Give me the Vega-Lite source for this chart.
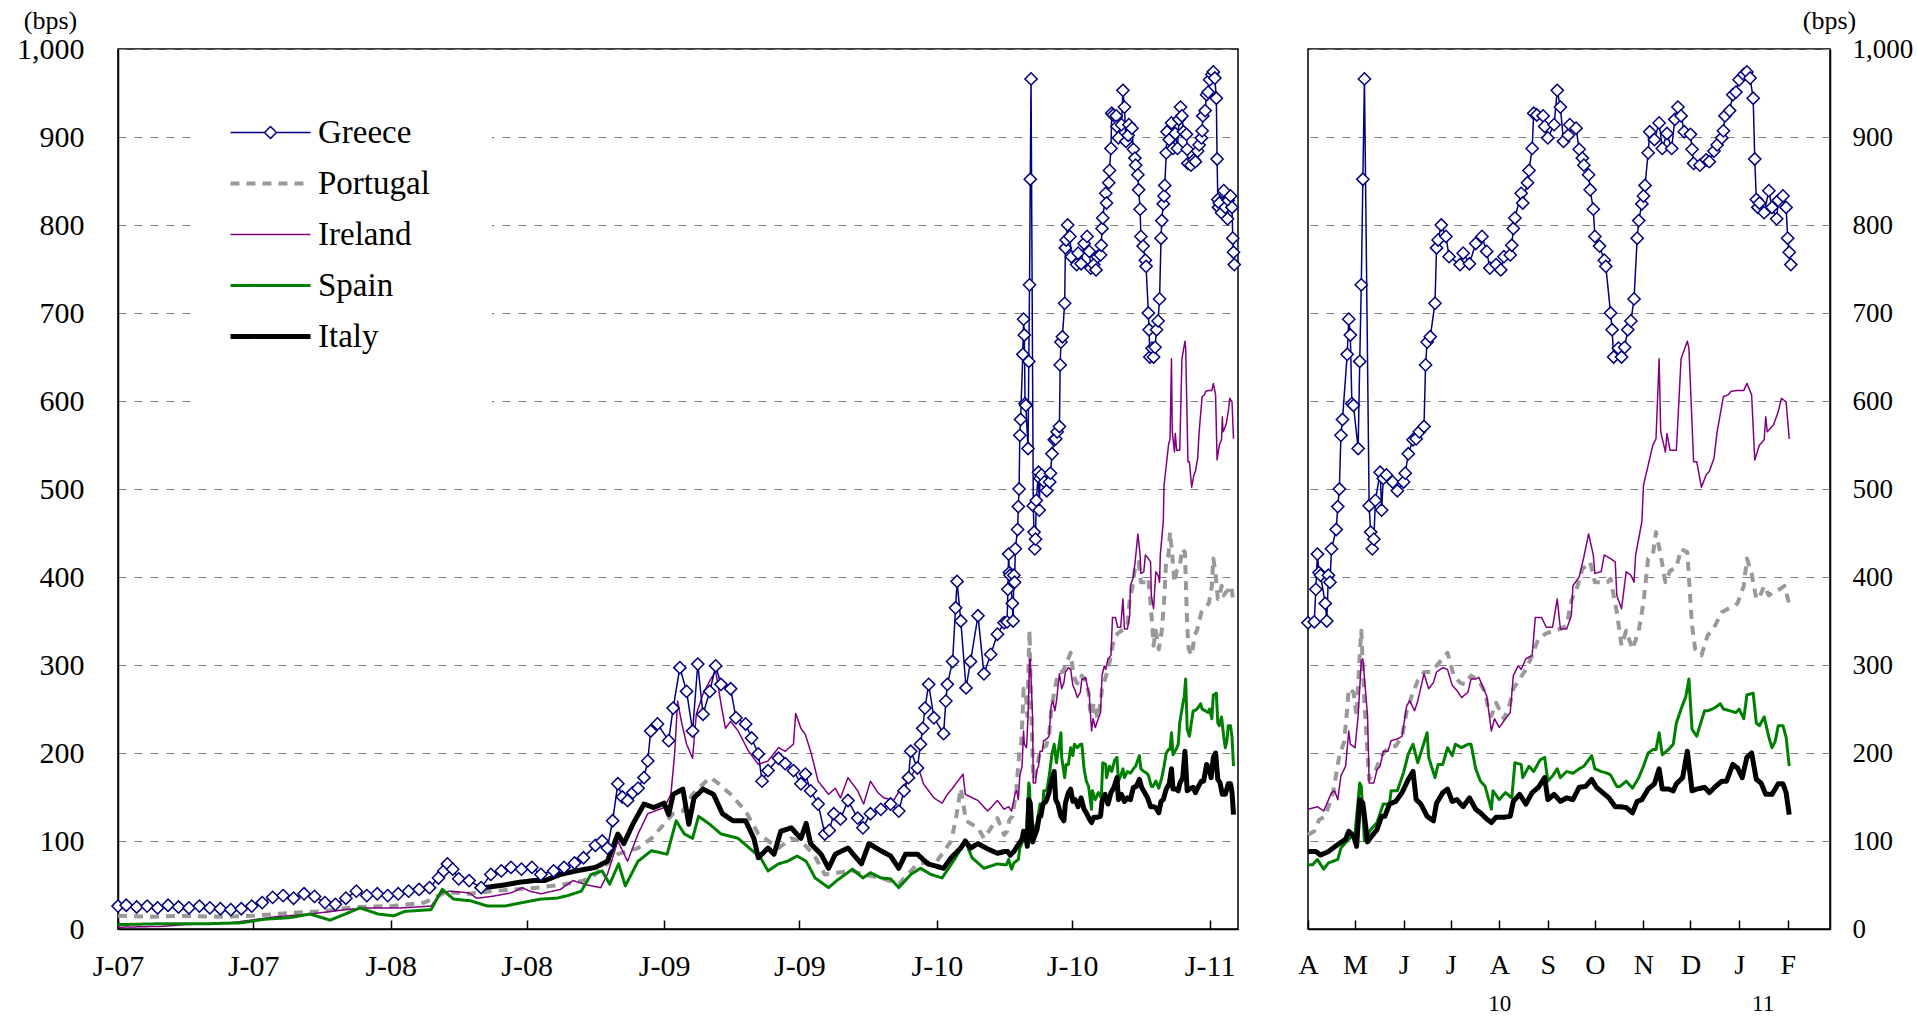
{
"$schema": "https://vega.github.io/schema/vega-lite/v6.json",
"padding": {"left": 15, "top": 6, "right": 5, "bottom": 0},
"bounds": "flush",
"spacing": 70,
"config": {
  "font": "Liberation Serif",
  "view": {"stroke": "#000", "strokeWidth": 1.5},
  "axis": {"domainColor": "#000", "domainWidth": 1.5, "labelColor": "#000", "labelFont": "Liberation Serif", "titleFont": "Liberation Serif", "titleFontWeight": "normal", "titleColor": "#000", "gridColor": "#808080", "gridDash": [8, 8], "gridWidth": 1, "tickColor": "#000", "tickWidth": 1.5}
},
"data": {"format": {"parse": {"d": "date"}}, "values": [
{"c":"Portugal","d":"2007-01-01","v":15},{"c":"Portugal","d":"2007-02-15","v":14},{"c":"Portugal","d":"2007-04-01","v":15},{"c":"Portugal","d":"2007-05-15","v":14},{"c":"Portugal","d":"2007-07-01","v":15},{"c":"Portugal","d":"2007-08-15","v":18},{"c":"Portugal","d":"2007-10-01","v":20},{"c":"Portugal","d":"2007-11-15","v":25},{"c":"Portugal","d":"2008-01-01","v":26},{"c":"Portugal","d":"2008-02-15","v":30},{"c":"Portugal","d":"2008-03-15","v":42},{"c":"Portugal","d":"2008-04-15","v":40},{"c":"Portugal","d":"2008-05-15","v":43},{"c":"Portugal","d":"2008-06-15","v":45},{"c":"Portugal","d":"2008-07-15","v":47},{"c":"Portugal","d":"2008-08-15","v":50},{"c":"Portugal","d":"2008-09-15","v":55},{"c":"Portugal","d":"2008-10-01","v":62},{"c":"Portugal","d":"2008-10-31","v":85},{"c":"Portugal","d":"2008-11-27","v":92},{"c":"Portugal","d":"2008-12-15","v":103},{"c":"Portugal","d":"2009-01-13","v":131},{"c":"Portugal","d":"2009-01-26","v":134},{"c":"Portugal","d":"2009-02-08","v":153},{"c":"Portugal","d":"2009-03-03","v":172},{"c":"Portugal","d":"2009-03-11","v":168},{"c":"Portugal","d":"2009-03-31","v":153},{"c":"Portugal","d":"2009-04-20","v":134},{"c":"Portugal","d":"2009-05-07","v":108},{"c":"Portugal","d":"2009-06-03","v":92},{"c":"Portugal","d":"2009-06-20","v":103},{"c":"Portugal","d":"2009-07-03","v":100},{"c":"Portugal","d":"2009-07-20","v":85},{"c":"Portugal","d":"2009-08-04","v":62},{"c":"Portugal","d":"2009-08-20","v":64},{"c":"Portugal","d":"2009-09-10","v":66},{"c":"Portugal","d":"2009-09-24","v":62},{"c":"Portugal","d":"2009-10-18","v":58},{"c":"Portugal","d":"2009-11-11","v":51},{"c":"Portugal","d":"2009-12-06","v":74},{"c":"Portugal","d":"2010-01-01","v":77},{"c":"Portugal","d":"2010-01-20","v":100},{"c":"Portugal","d":"2010-01-26","v":123},{"c":"Portugal","d":"2010-02-02","v":160},{"c":"Portugal","d":"2010-02-09","v":123},{"c":"Portugal","d":"2010-02-25","v":115},{"c":"Portugal","d":"2010-03-05","v":103},{"c":"Portugal","d":"2010-03-23","v":126},
{"c":"Portugal","d":"2010-04-01","v":107},{"c":"Portugal","d":"2010-04-05","v":111},{"c":"Portugal","d":"2010-04-08","v":124},{"c":"Portugal","d":"2010-04-12","v":128},{"c":"Portugal","d":"2010-04-17","v":155},{"c":"Portugal","d":"2010-04-21","v":197},{"c":"Portugal","d":"2010-04-24","v":212},{"c":"Portugal","d":"2010-04-26","v":250},{"c":"Portugal","d":"2010-04-27","v":273},{"c":"Portugal","d":"2010-04-30","v":269},{"c":"Portugal","d":"2010-05-02","v":242},{"c":"Portugal","d":"2010-05-04","v":311},{"c":"Portugal","d":"2010-05-05","v":339},{"c":"Portugal","d":"2010-05-07","v":257},{"c":"Portugal","d":"2010-05-10","v":170},{"c":"Portugal","d":"2010-05-14","v":180},{"c":"Portugal","d":"2010-05-18","v":197},{"c":"Portugal","d":"2010-05-22","v":206},{"c":"Portugal","d":"2010-05-27","v":208},{"c":"Portugal","d":"2010-05-31","v":219},{"c":"Portugal","d":"2010-06-03","v":248},{"c":"Portugal","d":"2010-06-07","v":269},{"c":"Portugal","d":"2010-06-10","v":282},{"c":"Portugal","d":"2010-06-14","v":292},{"c":"Portugal","d":"2010-06-18","v":292},{"c":"Portugal","d":"2010-06-22","v":299},{"c":"Portugal","d":"2010-06-29","v":314},{"c":"Portugal","d":"2010-07-03","v":288},{"c":"Portugal","d":"2010-07-07","v":280},{"c":"Portugal","d":"2010-07-10","v":278},{"c":"Portugal","d":"2010-07-14","v":288},{"c":"Portugal","d":"2010-07-19","v":282},{"c":"Portugal","d":"2010-07-23","v":269},{"c":"Portugal","d":"2010-07-25","v":250},{"c":"Portugal","d":"2010-07-27","v":242},{"c":"Portugal","d":"2010-07-30","v":257},{"c":"Portugal","d":"2010-08-04","v":239},{"c":"Portugal","d":"2010-08-08","v":257},{"c":"Portugal","d":"2010-08-10","v":273},{"c":"Portugal","d":"2010-08-14","v":284},{"c":"Portugal","d":"2010-08-18","v":295},{"c":"Portugal","d":"2010-08-22","v":311},{"c":"Portugal","d":"2010-08-26","v":330},{"c":"Portugal","d":"2010-08-31","v":336},{"c":"Portugal","d":"2010-09-05","v":339},{"c":"Portugal","d":"2010-09-09","v":341},{"c":"Portugal","d":"2010-09-13","v":345},{"c":"Portugal","d":"2010-09-16","v":373},{"c":"Portugal","d":"2010-09-20","v":390},{"c":"Portugal","d":"2010-09-23","v":409},{"c":"Portugal","d":"2010-09-28","v":417},{"c":"Portugal","d":"2010-10-01","v":394},{"c":"Portugal","d":"2010-10-05","v":394},{"c":"Portugal","d":"2010-10-09","v":394},{"c":"Portugal","d":"2010-10-11","v":398},{"c":"Portugal","d":"2010-10-15","v":360},{"c":"Portugal","d":"2010-10-18","v":322},{"c":"Portugal","d":"2010-10-21","v":339},{"c":"Portugal","d":"2010-10-25","v":318},{"c":"Portugal","d":"2010-10-29","v":339},{"c":"Portugal","d":"2010-11-01","v":371},{"c":"Portugal","d":"2010-11-04","v":421},{"c":"Portugal","d":"2010-11-07","v":425},{"c":"Portugal","d":"2010-11-09","v":451},{"c":"Portugal","d":"2010-11-12","v":425},{"c":"Portugal","d":"2010-11-15","v":394},{"c":"Portugal","d":"2010-11-18","v":407},{"c":"Portugal","d":"2010-11-22","v":411},{"c":"Portugal","d":"2010-11-25","v":432},{"c":"Portugal","d":"2010-11-29","v":428},{"c":"Portugal","d":"2010-11-30","v":400},{"c":"Portugal","d":"2010-12-01","v":371},{"c":"Portugal","d":"2010-12-02","v":345},{"c":"Portugal","d":"2010-12-04","v":318},{"c":"Portugal","d":"2010-12-08","v":311},{"c":"Portugal","d":"2010-12-12","v":334},{"c":"Portugal","d":"2010-12-15","v":339},{"c":"Portugal","d":"2010-12-21","v":360},{"c":"Portugal","d":"2010-12-25","v":364},{"c":"Portugal","d":"2010-12-31","v":370},{"c":"Portugal","d":"2011-01-04","v":390},{"c":"Portugal","d":"2011-01-06","v":421},{"c":"Portugal","d":"2011-01-09","v":404},{"c":"Portugal","d":"2011-01-12","v":375},{"c":"Portugal","d":"2011-01-14","v":377},{"c":"Portugal","d":"2011-01-17","v":390},{"c":"Portugal","d":"2011-01-20","v":379},{"c":"Portugal","d":"2011-01-23","v":383},{"c":"Portugal","d":"2011-01-26","v":385},{"c":"Portugal","d":"2011-01-30","v":390},{"c":"Portugal","d":"2011-02-02","v":369},
{"c":"Ireland","d":"2007-01-01","v":2},{"c":"Ireland","d":"2007-03-01","v":3},{"c":"Ireland","d":"2007-04-01","v":5},{"c":"Ireland","d":"2007-06-01","v":7},{"c":"Ireland","d":"2007-08-01","v":14},{"c":"Ireland","d":"2007-09-15","v":17},{"c":"Ireland","d":"2007-11-01","v":22},{"c":"Ireland","d":"2007-12-01","v":24},{"c":"Ireland","d":"2008-01-15","v":24},{"c":"Ireland","d":"2008-02-24","v":26},{"c":"Ireland","d":"2008-03-08","v":41},{"c":"Ireland","d":"2008-03-20","v":43},{"c":"Ireland","d":"2008-04-15","v":41},{"c":"Ireland","d":"2008-04-25","v":35},{"c":"Ireland","d":"2008-05-15","v":37},{"c":"Ireland","d":"2008-06-10","v":41},{"c":"Ireland","d":"2008-06-25","v":47},{"c":"Ireland","d":"2008-07-05","v":43},{"c":"Ireland","d":"2008-07-20","v":40},{"c":"Ireland","d":"2008-08-15","v":45},{"c":"Ireland","d":"2008-09-01","v":55},{"c":"Ireland","d":"2008-09-20","v":50},{"c":"Ireland","d":"2008-10-08","v":47},{"c":"Ireland","d":"2008-10-17","v":62},{"c":"Ireland","d":"2008-10-31","v":100},{"c":"Ireland","d":"2008-11-13","v":77},{"c":"Ireland","d":"2008-11-27","v":108},{"c":"Ireland","d":"2008-12-10","v":131},{"c":"Ireland","d":"2009-01-01","v":138},{"c":"Ireland","d":"2009-01-10","v":153},{"c":"Ireland","d":"2009-01-15","v":199},{"c":"Ireland","d":"2009-01-19","v":259},{"c":"Ireland","d":"2009-01-24","v":236},{"c":"Ireland","d":"2009-01-31","v":210},{"c":"Ireland","d":"2009-02-08","v":194},{"c":"Ireland","d":"2009-02-13","v":244},{"c":"Ireland","d":"2009-02-22","v":267},{"c":"Ireland","d":"2009-03-03","v":282},{"c":"Ireland","d":"2009-03-11","v":293},{"c":"Ireland","d":"2009-03-18","v":256},{"c":"Ireland","d":"2009-03-24","v":228},{"c":"Ireland","d":"2009-03-31","v":236},{"c":"Ireland","d":"2009-04-10","v":225},{"c":"Ireland","d":"2009-04-24","v":202},{"c":"Ireland","d":"2009-05-07","v":187},{"c":"Ireland","d":"2009-05-20","v":191},{"c":"Ireland","d":"2009-06-03","v":206},{"c":"Ireland","d":"2009-06-12","v":202},{"c":"Ireland","d":"2009-06-23","v":210},{"c":"Ireland","d":"2009-06-26","v":245},{"c":"Ireland","d":"2009-07-03","v":228},{"c":"Ireland","d":"2009-07-09","v":221},{"c":"Ireland","d":"2009-07-17","v":199},{"c":"Ireland","d":"2009-07-26","v":168},{"c":"Ireland","d":"2009-08-09","v":153},{"c":"Ireland","d":"2009-08-18","v":160},{"c":"Ireland","d":"2009-08-25","v":149},{"c":"Ireland","d":"2009-09-04","v":172},{"c":"Ireland","d":"2009-09-17","v":157},{"c":"Ireland","d":"2009-09-25","v":142},{"c":"Ireland","d":"2009-10-04","v":168},{"c":"Ireland","d":"2009-10-14","v":155},{"c":"Ireland","d":"2009-10-22","v":149},{"c":"Ireland","d":"2009-11-04","v":146},{"c":"Ireland","d":"2009-11-14","v":160},{"c":"Ireland","d":"2009-11-27","v":172},{"c":"Ireland","d":"2009-12-06","v":187},{"c":"Ireland","d":"2009-12-14","v":165},{"c":"Ireland","d":"2009-12-28","v":149},{"c":"Ireland","d":"2010-01-08","v":143},{"c":"Ireland","d":"2010-01-15","v":153},{"c":"Ireland","d":"2010-01-22","v":160},{"c":"Ireland","d":"2010-02-05","v":176},{"c":"Ireland","d":"2010-02-08","v":153},{"c":"Ireland","d":"2010-02-25","v":146},{"c":"Ireland","d":"2010-03-10","v":134},{"c":"Ireland","d":"2010-03-23","v":146},
{"c":"Ireland","d":"2010-04-01","v":136},{"c":"Ireland","d":"2010-04-07","v":139},{"c":"Ireland","d":"2010-04-11","v":134},{"c":"Ireland","d":"2010-04-16","v":155},{"c":"Ireland","d":"2010-04-18","v":157},{"c":"Ireland","d":"2010-04-20","v":147},{"c":"Ireland","d":"2010-04-22","v":174},{"c":"Ireland","d":"2010-04-25","v":185},{"c":"Ireland","d":"2010-04-27","v":225},{"c":"Ireland","d":"2010-04-28","v":210},{"c":"Ireland","d":"2010-05-01","v":206},{"c":"Ireland","d":"2010-05-03","v":242},{"c":"Ireland","d":"2010-05-05","v":305},{"c":"Ireland","d":"2010-05-06","v":307},{"c":"Ireland","d":"2010-05-09","v":242},{"c":"Ireland","d":"2010-05-10","v":166},{"c":"Ireland","d":"2010-05-13","v":166},{"c":"Ireland","d":"2010-05-15","v":181},{"c":"Ireland","d":"2010-05-17","v":185},{"c":"Ireland","d":"2010-05-19","v":202},{"c":"Ireland","d":"2010-05-22","v":202},{"c":"Ireland","d":"2010-05-24","v":214},{"c":"Ireland","d":"2010-05-28","v":216},{"c":"Ireland","d":"2010-05-31","v":219},{"c":"Ireland","d":"2010-06-03","v":254},{"c":"Ireland","d":"2010-06-05","v":259},{"c":"Ireland","d":"2010-06-08","v":248},{"c":"Ireland","d":"2010-06-10","v":259},{"c":"Ireland","d":"2010-06-14","v":290},{"c":"Ireland","d":"2010-06-17","v":273},{"c":"Ireland","d":"2010-06-20","v":280},{"c":"Ireland","d":"2010-06-22","v":292},{"c":"Ireland","d":"2010-06-26","v":297},{"c":"Ireland","d":"2010-06-29","v":295},{"c":"Ireland","d":"2010-07-02","v":277},{"c":"Ireland","d":"2010-07-05","v":271},{"c":"Ireland","d":"2010-07-08","v":263},{"c":"Ireland","d":"2010-07-12","v":269},{"c":"Ireland","d":"2010-07-14","v":284},{"c":"Ireland","d":"2010-07-17","v":284},{"c":"Ireland","d":"2010-07-19","v":286},{"c":"Ireland","d":"2010-07-22","v":273},{"c":"Ireland","d":"2010-07-24","v":265},{"c":"Ireland","d":"2010-07-27","v":225},{"c":"Ireland","d":"2010-07-29","v":239},{"c":"Ireland","d":"2010-08-01","v":229},{"c":"Ireland","d":"2010-08-05","v":239},{"c":"Ireland","d":"2010-08-08","v":246},{"c":"Ireland","d":"2010-08-10","v":288},{"c":"Ireland","d":"2010-08-13","v":299},{"c":"Ireland","d":"2010-08-15","v":295},{"c":"Ireland","d":"2010-08-18","v":307},{"c":"Ireland","d":"2010-08-22","v":311},{"c":"Ireland","d":"2010-08-24","v":354},{"c":"Ireland","d":"2010-08-28","v":354},{"c":"Ireland","d":"2010-08-31","v":343},{"c":"Ireland","d":"2010-09-04","v":343},{"c":"Ireland","d":"2010-09-07","v":375},{"c":"Ireland","d":"2010-09-09","v":341},{"c":"Ireland","d":"2010-09-13","v":341},{"c":"Ireland","d":"2010-09-16","v":356},{"c":"Ireland","d":"2010-09-17","v":390},{"c":"Ireland","d":"2010-09-21","v":400},{"c":"Ireland","d":"2010-09-24","v":423},{"c":"Ireland","d":"2010-09-27","v":449},{"c":"Ireland","d":"2010-09-30","v":425},{"c":"Ireland","d":"2010-10-01","v":404},{"c":"Ireland","d":"2010-10-05","v":406},{"c":"Ireland","d":"2010-10-07","v":425},{"c":"Ireland","d":"2010-10-11","v":421},{"c":"Ireland","d":"2010-10-14","v":417},{"c":"Ireland","d":"2010-10-15","v":379},{"c":"Ireland","d":"2010-10-18","v":364},{"c":"Ireland","d":"2010-10-21","v":406},{"c":"Ireland","d":"2010-10-24","v":402},{"c":"Ireland","d":"2010-10-26","v":394},{"c":"Ireland","d":"2010-10-27","v":425},{"c":"Ireland","d":"2010-10-29","v":444},{"c":"Ireland","d":"2010-10-31","v":463},{"c":"Ireland","d":"2010-11-01","v":504},{"c":"Ireland","d":"2010-11-04","v":527},{"c":"Ireland","d":"2010-11-07","v":550},{"c":"Ireland","d":"2010-11-09","v":557},{"c":"Ireland","d":"2010-11-11","v":648},{"c":"Ireland","d":"2010-11-12","v":565},{"c":"Ireland","d":"2010-11-15","v":542},{"c":"Ireland","d":"2010-11-16","v":563},{"c":"Ireland","d":"2010-11-18","v":544},{"c":"Ireland","d":"2010-11-22","v":544},{"c":"Ireland","d":"2010-11-25","v":648},{"c":"Ireland","d":"2010-11-29","v":668},{"c":"Ireland","d":"2010-11-30","v":660},{"c":"Ireland","d":"2010-12-03","v":531},{"c":"Ireland","d":"2010-12-05","v":531},{"c":"Ireland","d":"2010-12-08","v":502},{"c":"Ireland","d":"2010-12-11","v":516},{"c":"Ireland","d":"2010-12-13","v":520},{"c":"Ireland","d":"2010-12-16","v":535},{"c":"Ireland","d":"2010-12-18","v":565},{"c":"Ireland","d":"2010-12-22","v":605},{"c":"Ireland","d":"2010-12-25","v":607},{"c":"Ireland","d":"2010-12-27","v":611},{"c":"Ireland","d":"2010-12-31","v":612},{"c":"Ireland","d":"2011-01-04","v":612},{"c":"Ireland","d":"2011-01-06","v":620},{"c":"Ireland","d":"2011-01-09","v":607},{"c":"Ireland","d":"2011-01-11","v":533},{"c":"Ireland","d":"2011-01-14","v":550},{"c":"Ireland","d":"2011-01-17","v":556},{"c":"Ireland","d":"2011-01-18","v":582},{"c":"Ireland","d":"2011-01-19","v":565},{"c":"Ireland","d":"2011-01-23","v":573},{"c":"Ireland","d":"2011-01-26","v":588},{"c":"Ireland","d":"2011-01-28","v":603},{"c":"Ireland","d":"2011-01-31","v":599},{"c":"Ireland","d":"2011-02-02","v":557},
{"c":"Spain","d":"2007-01-01","v":5},{"c":"Spain","d":"2007-03-01","v":6},{"c":"Spain","d":"2007-05-01","v":6},{"c":"Spain","d":"2007-06-15","v":7},{"c":"Spain","d":"2007-07-15","v":11},{"c":"Spain","d":"2007-08-20","v":13},{"c":"Spain","d":"2007-09-15","v":17},{"c":"Spain","d":"2007-10-12","v":10},{"c":"Spain","d":"2007-11-01","v":17},{"c":"Spain","d":"2007-11-21","v":24},{"c":"Spain","d":"2007-12-15","v":17},{"c":"Spain","d":"2008-01-05","v":15},{"c":"Spain","d":"2008-01-20","v":20},{"c":"Spain","d":"2008-02-24","v":22},{"c":"Spain","d":"2008-03-10","v":45},{"c":"Spain","d":"2008-03-25","v":34},{"c":"Spain","d":"2008-04-17","v":32},{"c":"Spain","d":"2008-05-10","v":26},{"c":"Spain","d":"2008-06-01","v":26},{"c":"Spain","d":"2008-06-25","v":30},{"c":"Spain","d":"2008-07-20","v":34},{"c":"Spain","d":"2008-08-10","v":35},{"c":"Spain","d":"2008-08-25","v":38},{"c":"Spain","d":"2008-09-12","v":43},{"c":"Spain","d":"2008-09-25","v":62},{"c":"Spain","d":"2008-10-10","v":66},{"c":"Spain","d":"2008-10-20","v":51},{"c":"Spain","d":"2008-11-01","v":74},{"c":"Spain","d":"2008-11-10","v":49},{"c":"Spain","d":"2008-11-27","v":77},{"c":"Spain","d":"2008-12-15","v":89},{"c":"Spain","d":"2009-01-05","v":85},{"c":"Spain","d":"2009-01-17","v":123},{"c":"Spain","d":"2009-01-28","v":108},{"c":"Spain","d":"2009-02-08","v":103},{"c":"Spain","d":"2009-02-16","v":128},{"c":"Spain","d":"2009-03-03","v":119},{"c":"Spain","d":"2009-03-18","v":108},{"c":"Spain","d":"2009-04-10","v":103},{"c":"Spain","d":"2009-04-25","v":92},{"c":"Spain","d":"2009-05-10","v":81},{"c":"Spain","d":"2009-05-20","v":66},{"c":"Spain","d":"2009-06-03","v":74},{"c":"Spain","d":"2009-06-15","v":77},{"c":"Spain","d":"2009-06-28","v":83},{"c":"Spain","d":"2009-07-10","v":77},{"c":"Spain","d":"2009-07-22","v":58},{"c":"Spain","d":"2009-08-09","v":47},{"c":"Spain","d":"2009-08-20","v":55},{"c":"Spain","d":"2009-09-10","v":68},{"c":"Spain","d":"2009-09-24","v":58},{"c":"Spain","d":"2009-10-04","v":64},{"c":"Spain","d":"2009-10-18","v":58},{"c":"Spain","d":"2009-10-31","v":57},{"c":"Spain","d":"2009-11-11","v":47},{"c":"Spain","d":"2009-11-27","v":62},{"c":"Spain","d":"2009-12-10","v":69},{"c":"Spain","d":"2009-12-24","v":62},{"c":"Spain","d":"2010-01-08","v":58},{"c":"Spain","d":"2010-01-26","v":81},{"c":"Spain","d":"2010-02-08","v":100},{"c":"Spain","d":"2010-02-17","v":81},{"c":"Spain","d":"2010-03-05","v":69},{"c":"Spain","d":"2010-03-23","v":74},
{"c":"Spain","d":"2010-04-01","v":73},{"c":"Spain","d":"2010-04-04","v":73},{"c":"Spain","d":"2010-04-07","v":79},{"c":"Spain","d":"2010-04-11","v":68},{"c":"Spain","d":"2010-04-14","v":75},{"c":"Spain","d":"2010-04-20","v":79},{"c":"Spain","d":"2010-04-22","v":92},{"c":"Spain","d":"2010-04-27","v":102},{"c":"Spain","d":"2010-05-01","v":109},{"c":"Spain","d":"2010-05-04","v":166},{"c":"Spain","d":"2010-05-05","v":162},{"c":"Spain","d":"2010-05-07","v":100},{"c":"Spain","d":"2010-05-11","v":113},{"c":"Spain","d":"2010-05-15","v":121},{"c":"Spain","d":"2010-05-19","v":142},{"c":"Spain","d":"2010-05-23","v":142},{"c":"Spain","d":"2010-05-24","v":157},{"c":"Spain","d":"2010-05-28","v":157},{"c":"Spain","d":"2010-06-01","v":178},{"c":"Spain","d":"2010-06-04","v":199},{"c":"Spain","d":"2010-06-07","v":210},{"c":"Spain","d":"2010-06-10","v":189},{"c":"Spain","d":"2010-06-13","v":206},{"c":"Spain","d":"2010-06-16","v":223},{"c":"Spain","d":"2010-06-17","v":195},{"c":"Spain","d":"2010-06-21","v":172},{"c":"Spain","d":"2010-06-23","v":187},{"c":"Spain","d":"2010-06-26","v":187},{"c":"Spain","d":"2010-06-29","v":206},{"c":"Spain","d":"2010-07-02","v":197},{"c":"Spain","d":"2010-07-04","v":210},{"c":"Spain","d":"2010-07-08","v":206},{"c":"Spain","d":"2010-07-12","v":210},{"c":"Spain","d":"2010-07-14","v":210},{"c":"Spain","d":"2010-07-17","v":182},{"c":"Spain","d":"2010-07-20","v":168},{"c":"Spain","d":"2010-07-23","v":162},{"c":"Spain","d":"2010-07-27","v":136},{"c":"Spain","d":"2010-07-28","v":157},{"c":"Spain","d":"2010-08-01","v":147},{"c":"Spain","d":"2010-08-05","v":155},{"c":"Spain","d":"2010-08-09","v":149},{"c":"Spain","d":"2010-08-11","v":189},{"c":"Spain","d":"2010-08-15","v":187},{"c":"Spain","d":"2010-08-16","v":172},{"c":"Spain","d":"2010-08-20","v":185},{"c":"Spain","d":"2010-08-23","v":179},{"c":"Spain","d":"2010-08-27","v":192},{"c":"Spain","d":"2010-08-30","v":195},{"c":"Spain","d":"2010-09-01","v":168},{"c":"Spain","d":"2010-09-04","v":174},{"c":"Spain","d":"2010-09-07","v":182},{"c":"Spain","d":"2010-09-09","v":172},{"c":"Spain","d":"2010-09-13","v":179},{"c":"Spain","d":"2010-09-17","v":177},{"c":"Spain","d":"2010-09-21","v":182},{"c":"Spain","d":"2010-09-24","v":185},{"c":"Spain","d":"2010-09-29","v":197},{"c":"Spain","d":"2010-10-01","v":182},{"c":"Spain","d":"2010-10-05","v":179},{"c":"Spain","d":"2010-10-09","v":177},{"c":"Spain","d":"2010-10-11","v":175},{"c":"Spain","d":"2010-10-15","v":162},{"c":"Spain","d":"2010-10-17","v":162},{"c":"Spain","d":"2010-10-21","v":168},{"c":"Spain","d":"2010-10-25","v":160},{"c":"Spain","d":"2010-10-29","v":172},{"c":"Spain","d":"2010-11-01","v":185},{"c":"Spain","d":"2010-11-04","v":200},{"c":"Spain","d":"2010-11-07","v":204},{"c":"Spain","d":"2010-11-09","v":204},{"c":"Spain","d":"2010-11-11","v":223},{"c":"Spain","d":"2010-11-13","v":198},{"c":"Spain","d":"2010-11-17","v":204},{"c":"Spain","d":"2010-11-20","v":210},{"c":"Spain","d":"2010-11-22","v":234},{"c":"Spain","d":"2010-11-25","v":250},{"c":"Spain","d":"2010-11-28","v":264},{"c":"Spain","d":"2010-11-30","v":284},{"c":"Spain","d":"2010-12-02","v":227},{"c":"Spain","d":"2010-12-05","v":219},{"c":"Spain","d":"2010-12-07","v":231},{"c":"Spain","d":"2010-12-10","v":248},{"c":"Spain","d":"2010-12-12","v":248},{"c":"Spain","d":"2010-12-15","v":250},{"c":"Spain","d":"2010-12-17","v":252},{"c":"Spain","d":"2010-12-20","v":256},{"c":"Spain","d":"2010-12-22","v":250},{"c":"Spain","d":"2010-12-26","v":248},{"c":"Spain","d":"2010-12-30","v":246},{"c":"Spain","d":"2011-01-01","v":250},{"c":"Spain","d":"2011-01-04","v":239},{"c":"Spain","d":"2011-01-06","v":266},{"c":"Spain","d":"2011-01-10","v":268},{"c":"Spain","d":"2011-01-12","v":234},{"c":"Spain","d":"2011-01-14","v":231},{"c":"Spain","d":"2011-01-17","v":241},{"c":"Spain","d":"2011-01-20","v":218},{"c":"Spain","d":"2011-01-22","v":206},{"c":"Spain","d":"2011-01-24","v":213},{"c":"Spain","d":"2011-01-26","v":231},{"c":"Spain","d":"2011-01-29","v":231},{"c":"Spain","d":"2011-01-31","v":218},{"c":"Spain","d":"2011-02-02","v":185},
{"c":"Italy","d":"2008-05-05","v":47},{"c":"Italy","d":"2008-06-01","v":50},{"c":"Italy","d":"2008-06-20","v":53},{"c":"Italy","d":"2008-07-10","v":55},{"c":"Italy","d":"2008-07-25","v":55},{"c":"Italy","d":"2008-08-15","v":62},{"c":"Italy","d":"2008-09-05","v":66},{"c":"Italy","d":"2008-10-01","v":70},{"c":"Italy","d":"2008-10-17","v":77},{"c":"Italy","d":"2008-10-31","v":108},{"c":"Italy","d":"2008-11-08","v":97},{"c":"Italy","d":"2008-11-20","v":119},{"c":"Italy","d":"2008-12-05","v":142},{"c":"Italy","d":"2008-12-18","v":138},{"c":"Italy","d":"2009-01-01","v":143},{"c":"Italy","d":"2009-01-07","v":130},{"c":"Italy","d":"2009-01-13","v":153},{"c":"Italy","d":"2009-01-26","v":159},{"c":"Italy","d":"2009-02-03","v":119},{"c":"Italy","d":"2009-02-10","v":149},{"c":"Italy","d":"2009-02-22","v":159},{"c":"Italy","d":"2009-03-08","v":153},{"c":"Italy","d":"2009-03-20","v":131},{"c":"Italy","d":"2009-04-03","v":123},{"c":"Italy","d":"2009-04-20","v":123},{"c":"Italy","d":"2009-05-01","v":103},{"c":"Italy","d":"2009-05-07","v":81},{"c":"Italy","d":"2009-05-20","v":92},{"c":"Italy","d":"2009-05-28","v":85},{"c":"Italy","d":"2009-06-06","v":111},{"c":"Italy","d":"2009-06-20","v":115},{"c":"Italy","d":"2009-07-03","v":103},{"c":"Italy","d":"2009-07-10","v":120},{"c":"Italy","d":"2009-07-16","v":97},{"c":"Italy","d":"2009-07-30","v":85},{"c":"Italy","d":"2009-08-09","v":69},{"c":"Italy","d":"2009-08-18","v":85},{"c":"Italy","d":"2009-09-04","v":92},{"c":"Italy","d":"2009-09-22","v":74},{"c":"Italy","d":"2009-10-02","v":97},{"c":"Italy","d":"2009-10-18","v":89},{"c":"Italy","d":"2009-10-31","v":83},{"c":"Italy","d":"2009-11-11","v":69},{"c":"Italy","d":"2009-11-20","v":85},{"c":"Italy","d":"2009-12-06","v":85},{"c":"Italy","d":"2009-12-20","v":74},{"c":"Italy","d":"2010-01-10","v":69},{"c":"Italy","d":"2010-01-20","v":81},{"c":"Italy","d":"2010-02-02","v":92},{"c":"Italy","d":"2010-02-08","v":100},{"c":"Italy","d":"2010-02-15","v":92},{"c":"Italy","d":"2010-02-25","v":97},{"c":"Italy","d":"2010-03-10","v":91},{"c":"Italy","d":"2010-03-23","v":86},
{"c":"Italy","d":"2010-04-01","v":88},{"c":"Italy","d":"2010-04-06","v":88},{"c":"Italy","d":"2010-04-09","v":84},{"c":"Italy","d":"2010-04-14","v":88},{"c":"Italy","d":"2010-04-20","v":96},{"c":"Italy","d":"2010-04-25","v":102},{"c":"Italy","d":"2010-04-27","v":111},{"c":"Italy","d":"2010-04-30","v":106},{"c":"Italy","d":"2010-05-02","v":94},{"c":"Italy","d":"2010-05-04","v":147},{"c":"Italy","d":"2010-05-06","v":143},{"c":"Italy","d":"2010-05-09","v":99},{"c":"Italy","d":"2010-05-11","v":104},{"c":"Italy","d":"2010-05-15","v":113},{"c":"Italy","d":"2010-05-18","v":128},{"c":"Italy","d":"2010-05-20","v":128},{"c":"Italy","d":"2010-05-23","v":142},{"c":"Italy","d":"2010-05-27","v":145},{"c":"Italy","d":"2010-05-31","v":155},{"c":"Italy","d":"2010-06-04","v":170},{"c":"Italy","d":"2010-06-07","v":179},{"c":"Italy","d":"2010-06-09","v":147},{"c":"Italy","d":"2010-06-12","v":142},{"c":"Italy","d":"2010-06-16","v":128},{"c":"Italy","d":"2010-06-20","v":123},{"c":"Italy","d":"2010-06-22","v":143},{"c":"Italy","d":"2010-06-26","v":155},{"c":"Italy","d":"2010-06-29","v":159},{"c":"Italy","d":"2010-07-02","v":145},{"c":"Italy","d":"2010-07-05","v":147},{"c":"Italy","d":"2010-07-09","v":139},{"c":"Italy","d":"2010-07-13","v":149},{"c":"Italy","d":"2010-07-17","v":136},{"c":"Italy","d":"2010-07-20","v":132},{"c":"Italy","d":"2010-07-24","v":125},{"c":"Italy","d":"2010-07-27","v":121},{"c":"Italy","d":"2010-07-30","v":127},{"c":"Italy","d":"2010-08-04","v":127},{"c":"Italy","d":"2010-08-08","v":128},{"c":"Italy","d":"2010-08-10","v":145},{"c":"Italy","d":"2010-08-14","v":153},{"c":"Italy","d":"2010-08-18","v":142},{"c":"Italy","d":"2010-08-22","v":155},{"c":"Italy","d":"2010-08-26","v":161},{"c":"Italy","d":"2010-08-30","v":172},{"c":"Italy","d":"2010-09-01","v":147},{"c":"Italy","d":"2010-09-05","v":153},{"c":"Italy","d":"2010-09-09","v":145},{"c":"Italy","d":"2010-09-13","v":149},{"c":"Italy","d":"2010-09-17","v":147},{"c":"Italy","d":"2010-09-21","v":161},{"c":"Italy","d":"2010-09-25","v":162},{"c":"Italy","d":"2010-09-29","v":170},{"c":"Italy","d":"2010-10-02","v":161},{"c":"Italy","d":"2010-10-06","v":155},{"c":"Italy","d":"2010-10-10","v":149},{"c":"Italy","d":"2010-10-14","v":139},{"c":"Italy","d":"2010-10-17","v":139},{"c":"Italy","d":"2010-10-21","v":138},{"c":"Italy","d":"2010-10-25","v":132},{"c":"Italy","d":"2010-10-28","v":145},{"c":"Italy","d":"2010-10-31","v":147},{"c":"Italy","d":"2010-11-04","v":159},{"c":"Italy","d":"2010-11-08","v":165},{"c":"Italy","d":"2010-11-11","v":182},{"c":"Italy","d":"2010-11-13","v":159},{"c":"Italy","d":"2010-11-17","v":159},{"c":"Italy","d":"2010-11-20","v":157},{"c":"Italy","d":"2010-11-22","v":165},{"c":"Italy","d":"2010-11-26","v":172},{"c":"Italy","d":"2010-11-29","v":202},{"c":"Italy","d":"2010-12-02","v":157},{"c":"Italy","d":"2010-12-05","v":159},{"c":"Italy","d":"2010-12-10","v":161},{"c":"Italy","d":"2010-12-13","v":155},{"c":"Italy","d":"2010-12-17","v":162},{"c":"Italy","d":"2010-12-21","v":168},{"c":"Italy","d":"2010-12-24","v":168},{"c":"Italy","d":"2010-12-28","v":187},{"c":"Italy","d":"2010-12-31","v":183},{"c":"Italy","d":"2011-01-03","v":172},{"c":"Italy","d":"2011-01-06","v":195},{"c":"Italy","d":"2011-01-09","v":200},{"c":"Italy","d":"2011-01-12","v":170},{"c":"Italy","d":"2011-01-15","v":166},{"c":"Italy","d":"2011-01-18","v":153},{"c":"Italy","d":"2011-01-22","v":153},{"c":"Italy","d":"2011-01-26","v":165},{"c":"Italy","d":"2011-01-29","v":165},{"c":"Italy","d":"2011-01-31","v":155},{"c":"Italy","d":"2011-02-02","v":130},
{"c":"Greece","d":"2007-01-01","v":26},{"c":"Greece","d":"2007-01-12","v":27},{"c":"Greece","d":"2007-01-26","v":25},{"c":"Greece","d":"2007-02-09","v":26},{"c":"Greece","d":"2007-02-23","v":24},{"c":"Greece","d":"2007-03-09","v":27},{"c":"Greece","d":"2007-03-23","v":25},{"c":"Greece","d":"2007-04-06","v":24},{"c":"Greece","d":"2007-04-20","v":26},{"c":"Greece","d":"2007-05-04","v":24},{"c":"Greece","d":"2007-05-18","v":23},{"c":"Greece","d":"2007-06-01","v":22},{"c":"Greece","d":"2007-06-15","v":23},{"c":"Greece","d":"2007-06-29","v":26},{"c":"Greece","d":"2007-07-13","v":30},{"c":"Greece","d":"2007-07-27","v":36},{"c":"Greece","d":"2007-08-10","v":38},{"c":"Greece","d":"2007-08-24","v":35},{"c":"Greece","d":"2007-09-07","v":40},{"c":"Greece","d":"2007-09-21","v":37},{"c":"Greece","d":"2007-10-05","v":30},{"c":"Greece","d":"2007-10-19","v":28},{"c":"Greece","d":"2007-11-02","v":35},{"c":"Greece","d":"2007-11-16","v":43},{"c":"Greece","d":"2007-11-30","v":38},{"c":"Greece","d":"2007-12-14","v":40},{"c":"Greece","d":"2007-12-28","v":38},{"c":"Greece","d":"2008-01-11","v":40},{"c":"Greece","d":"2008-01-25","v":43},{"c":"Greece","d":"2008-02-08","v":45},{"c":"Greece","d":"2008-02-22","v":47},{"c":"Greece","d":"2008-03-05","v":58},{"c":"Greece","d":"2008-03-12","v":66},{"c":"Greece","d":"2008-03-17","v":74},{"c":"Greece","d":"2008-03-24","v":68},{"c":"Greece","d":"2008-04-01","v":57},{"c":"Greece","d":"2008-04-15","v":55},{"c":"Greece","d":"2008-05-01","v":47},{"c":"Greece","d":"2008-05-14","v":62},{"c":"Greece","d":"2008-05-28","v":66},{"c":"Greece","d":"2008-06-10","v":70},{"c":"Greece","d":"2008-06-24","v":68},{"c":"Greece","d":"2008-07-08","v":70},{"c":"Greece","d":"2008-07-20","v":62},{"c":"Greece","d":"2008-08-06","v":66},{"c":"Greece","d":"2008-08-20","v":70},{"c":"Greece","d":"2008-09-03","v":75},{"c":"Greece","d":"2008-09-15","v":81},{"c":"Greece","d":"2008-10-01","v":95},{"c":"Greece","d":"2008-10-10","v":100},{"c":"Greece","d":"2008-10-17","v":92},{"c":"Greece","d":"2008-10-24","v":123},{"c":"Greece","d":"2008-10-31","v":165},{"c":"Greece","d":"2008-11-06","v":150},{"c":"Greece","d":"2008-11-13","v":146},{"c":"Greece","d":"2008-11-20","v":155},{"c":"Greece","d":"2008-11-27","v":160},{"c":"Greece","d":"2008-12-05","v":172},{"c":"Greece","d":"2008-12-10","v":191},{"c":"Greece","d":"2008-12-14","v":225},{"c":"Greece","d":"2008-12-23","v":233},{"c":"Greece","d":"2009-01-07","v":214},{"c":"Greece","d":"2009-01-13","v":251},{"c":"Greece","d":"2009-01-22","v":297},{"c":"Greece","d":"2009-01-31","v":270},{"c":"Greece","d":"2009-02-08","v":225},{"c":"Greece","d":"2009-02-15","v":301},{"c":"Greece","d":"2009-02-22","v":244},{"c":"Greece","d":"2009-03-03","v":270},{"c":"Greece","d":"2009-03-11","v":299},{"c":"Greece","d":"2009-03-18","v":278},{"c":"Greece","d":"2009-03-31","v":273},{"c":"Greece","d":"2009-04-07","v":240},{"c":"Greece","d":"2009-04-20","v":233},{"c":"Greece","d":"2009-04-28","v":217},{"c":"Greece","d":"2009-05-07","v":199},{"c":"Greece","d":"2009-05-12","v":168},{"c":"Greece","d":"2009-05-20","v":180},{"c":"Greece","d":"2009-06-03","v":194},{"c":"Greece","d":"2009-06-12","v":188},{"c":"Greece","d":"2009-06-23","v":180},{"c":"Greece","d":"2009-07-03","v":165},{"c":"Greece","d":"2009-07-09","v":176},{"c":"Greece","d":"2009-07-16","v":157},{"c":"Greece","d":"2009-07-26","v":142},{"c":"Greece","d":"2009-08-04","v":108},{"c":"Greece","d":"2009-08-10","v":112},{"c":"Greece","d":"2009-08-16","v":131},{"c":"Greece","d":"2009-08-25","v":125},{"c":"Greece","d":"2009-09-04","v":146},{"c":"Greece","d":"2009-09-17","v":126},{"c":"Greece","d":"2009-09-24","v":115},{"c":"Greece","d":"2009-10-04","v":131},{"c":"Greece","d":"2009-10-18","v":136},{"c":"Greece","d":"2009-10-31","v":142},{"c":"Greece","d":"2009-11-11","v":134},{"c":"Greece","d":"2009-11-18","v":157},{"c":"Greece","d":"2009-11-24","v":172},{"c":"Greece","d":"2009-11-27","v":202},{"c":"Greece","d":"2009-12-06","v":183},{"c":"Greece","d":"2009-12-10","v":210},{"c":"Greece","d":"2009-12-13","v":228},{"c":"Greece","d":"2009-12-16","v":251},{"c":"Greece","d":"2009-12-21","v":278},{"c":"Greece","d":"2009-12-28","v":240},{"c":"Greece","d":"2010-01-10","v":222},{"c":"Greece","d":"2010-01-13","v":259},{"c":"Greece","d":"2010-01-15","v":278},{"c":"Greece","d":"2010-01-22","v":304},{"c":"Greece","d":"2010-01-26","v":365},{"c":"Greece","d":"2010-01-28","v":395},{"c":"Greece","d":"2010-02-02","v":350},{"c":"Greece","d":"2010-02-09","v":274},{"c":"Greece","d":"2010-02-15","v":304},{"c":"Greece","d":"2010-02-25","v":356},{"c":"Greece","d":"2010-03-05","v":290},{"c":"Greece","d":"2010-03-14","v":312},{"c":"Greece","d":"2010-03-23","v":335},
{"c":"Greece","d":"2010-04-01","v":348},{"c":"Greece","d":"2010-04-05","v":349},{"c":"Greece","d":"2010-04-06","v":386},{"c":"Greece","d":"2010-04-07","v":426},{"c":"Greece","d":"2010-04-08","v":405},{"c":"Greece","d":"2010-04-09","v":402},{"c":"Greece","d":"2010-04-12","v":370},{"c":"Greece","d":"2010-04-13","v":350},{"c":"Greece","d":"2010-04-14","v":402},{"c":"Greece","d":"2010-04-15","v":394},{"c":"Greece","d":"2010-04-16","v":432},{"c":"Greece","d":"2010-04-19","v":454},{"c":"Greece","d":"2010-04-20","v":480},{"c":"Greece","d":"2010-04-21","v":500},{"c":"Greece","d":"2010-04-22","v":561},{"c":"Greece","d":"2010-04-23","v":579},{"c":"Greece","d":"2010-04-26","v":653},{"c":"Greece","d":"2010-04-27","v":693},{"c":"Greece","d":"2010-04-28","v":675},{"c":"Greece","d":"2010-04-29","v":597},{"c":"Greece","d":"2010-04-30","v":595},{"c":"Greece","d":"2010-05-03","v":546},{"c":"Greece","d":"2010-05-04","v":645},{"c":"Greece","d":"2010-05-05","v":732},{"c":"Greece","d":"2010-05-06","v":852},{"c":"Greece","d":"2010-05-07","v":966},{"c":"Greece","d":"2010-05-10","v":481},{"c":"Greece","d":"2010-05-11","v":451},{"c":"Greece","d":"2010-05-12","v":432},{"c":"Greece","d":"2010-05-13","v":443},{"c":"Greece","d":"2010-05-14","v":487},{"c":"Greece","d":"2010-05-17","v":519},{"c":"Greece","d":"2010-05-18","v":476},{"c":"Greece","d":"2010-05-19","v":512},{"c":"Greece","d":"2010-05-21","v":516},{"c":"Greece","d":"2010-05-25","v":508},{"c":"Greece","d":"2010-05-28","v":498},{"c":"Greece","d":"2010-06-01","v":508},{"c":"Greece","d":"2010-06-02","v":518},{"c":"Greece","d":"2010-06-04","v":540},{"c":"Greece","d":"2010-06-07","v":556},{"c":"Greece","d":"2010-06-09","v":557},{"c":"Greece","d":"2010-06-11","v":565},{"c":"Greece","d":"2010-06-14","v":571},{"c":"Greece","d":"2010-06-15","v":641},{"c":"Greece","d":"2010-06-16","v":667},{"c":"Greece","d":"2010-06-18","v":673},{"c":"Greece","d":"2010-06-21","v":711},{"c":"Greece","d":"2010-06-22","v":774},{"c":"Greece","d":"2010-06-23","v":783},{"c":"Greece","d":"2010-06-25","v":800},{"c":"Greece","d":"2010-06-28","v":787},{"c":"Greece","d":"2010-06-30","v":764},{"c":"Greece","d":"2010-07-07","v":755},{"c":"Greece","d":"2010-07-09","v":768},{"c":"Greece","d":"2010-07-13","v":756},{"c":"Greece","d":"2010-07-17","v":779},{"c":"Greece","d":"2010-07-21","v":787},{"c":"Greece","d":"2010-07-24","v":770},{"c":"Greece","d":"2010-07-26","v":751},{"c":"Greece","d":"2010-07-30","v":755},{"c":"Greece","d":"2010-08-02","v":749},{"c":"Greece","d":"2010-08-04","v":764},{"c":"Greece","d":"2010-08-08","v":766},{"c":"Greece","d":"2010-08-09","v":777},{"c":"Greece","d":"2010-08-10","v":796},{"c":"Greece","d":"2010-08-11","v":808},{"c":"Greece","d":"2010-08-15","v":836},{"c":"Greece","d":"2010-08-16","v":825},{"c":"Greece","d":"2010-08-19","v":848},{"c":"Greece","d":"2010-08-20","v":862},{"c":"Greece","d":"2010-08-22","v":887},{"c":"Greece","d":"2010-08-23","v":927},{"c":"Greece","d":"2010-08-25","v":925},{"c":"Greece","d":"2010-08-29","v":924},{"c":"Greece","d":"2010-08-30","v":912},{"c":"Greece","d":"2010-09-01","v":899},{"c":"Greece","d":"2010-09-05","v":914},{"c":"Greece","d":"2010-09-07","v":953},{"c":"Greece","d":"2010-09-09","v":934},{"c":"Greece","d":"2010-09-11","v":895},{"c":"Greece","d":"2010-09-14","v":902},{"c":"Greece","d":"2010-09-15","v":914},{"c":"Greece","d":"2010-09-19","v":910},{"c":"Greece","d":"2010-09-21","v":886},{"c":"Greece","d":"2010-09-23","v":876},{"c":"Greece","d":"2010-09-24","v":868},{"c":"Greece","d":"2010-09-27","v":857},{"c":"Greece","d":"2010-09-28","v":840},{"c":"Greece","d":"2010-09-30","v":818},{"c":"Greece","d":"2010-10-01","v":787},{"c":"Greece","d":"2010-10-04","v":776},{"c":"Greece","d":"2010-10-07","v":760},{"c":"Greece","d":"2010-10-08","v":753},{"c":"Greece","d":"2010-10-11","v":700},{"c":"Greece","d":"2010-10-12","v":681},{"c":"Greece","d":"2010-10-13","v":650},{"c":"Greece","d":"2010-10-16","v":660},{"c":"Greece","d":"2010-10-18","v":650},{"c":"Greece","d":"2010-10-20","v":661},{"c":"Greece","d":"2010-10-22","v":681},{"c":"Greece","d":"2010-10-24","v":691},{"c":"Greece","d":"2010-10-26","v":716},{"c":"Greece","d":"2010-10-28","v":785},{"c":"Greece","d":"2010-10-29","v":805},{"c":"Greece","d":"2010-10-31","v":824},{"c":"Greece","d":"2010-11-01","v":833},{"c":"Greece","d":"2010-11-02","v":845},{"c":"Greece","d":"2010-11-04","v":882},{"c":"Greece","d":"2010-11-05","v":906},{"c":"Greece","d":"2010-11-08","v":897},{"c":"Greece","d":"2010-11-11","v":916},{"c":"Greece","d":"2010-11-13","v":887},{"c":"Greece","d":"2010-11-16","v":904},{"c":"Greece","d":"2010-11-19","v":887},{"c":"Greece","d":"2010-11-21","v":920},{"c":"Greece","d":"2010-11-23","v":934},{"c":"Greece","d":"2010-11-25","v":924},{"c":"Greece","d":"2010-11-27","v":906},{"c":"Greece","d":"2010-12-01","v":903},{"c":"Greece","d":"2010-12-02","v":886},{"c":"Greece","d":"2010-12-03","v":870},{"c":"Greece","d":"2010-12-07","v":868},{"c":"Greece","d":"2010-12-11","v":874},{"c":"Greece","d":"2010-12-13","v":872},{"c":"Greece","d":"2010-12-16","v":884},{"c":"Greece","d":"2010-12-18","v":891},{"c":"Greece","d":"2010-12-21","v":899},{"c":"Greece","d":"2010-12-22","v":907},{"c":"Greece","d":"2010-12-23","v":924},{"c":"Greece","d":"2010-12-26","v":930},{"c":"Greece","d":"2010-12-28","v":948},{"c":"Greece","d":"2010-12-30","v":951},{"c":"Greece","d":"2011-01-01","v":965},{"c":"Greece","d":"2011-01-04","v":971},{"c":"Greece","d":"2011-01-06","v":974},{"c":"Greece","d":"2011-01-08","v":967},{"c":"Greece","d":"2011-01-10","v":944},{"c":"Greece","d":"2011-01-11","v":875},{"c":"Greece","d":"2011-01-12","v":829},{"c":"Greece","d":"2011-01-13","v":820},{"c":"Greece","d":"2011-01-14","v":825},{"c":"Greece","d":"2011-01-17","v":814},{"c":"Greece","d":"2011-01-20","v":839},{"c":"Greece","d":"2011-01-22","v":820},{"c":"Greece","d":"2011-01-25","v":807},{"c":"Greece","d":"2011-01-26","v":828},{"c":"Greece","d":"2011-01-29","v":833},{"c":"Greece","d":"2011-01-31","v":820},{"c":"Greece","d":"2011-02-01","v":785},{"c":"Greece","d":"2011-02-02","v":769},{"c":"Greece","d":"2011-02-03","v":755}
]},
"resolve": {"legend": {"color": "independent", "strokeDash": "independent", "strokeWidth": "independent"}},
"hconcat": [
{
  "width": 1120, "height": 880,
  "layer": [
    {
      "mark": {"type": "line", "strokeJoin": "round"},
      "encoding": {
        "x": {"field": "d", "type": "temporal",
          "scale": {"type": "utc", "domain": [{"year": 2007, "month": 1, "date": 1, "utc": true}, {"year": 2011, "month": 2, "date": 8, "utc": true}]},
          "axis": {"title": null, "grid": false, "labelFontSize": 30, "tickSize": -9, "labelPadding": 31, "labelOverlap": false, "labelFlush": false, "labelBaseline": "top",
            "values": [{"year":2007,"month":1,"date":1,"utc":true},{"year":2007,"month":7,"date":1,"utc":true},{"year":2008,"month":1,"date":1,"utc":true},{"year":2008,"month":7,"date":1,"utc":true},{"year":2009,"month":1,"date":1,"utc":true},{"year":2009,"month":7,"date":1,"utc":true},{"year":2010,"month":1,"date":1,"utc":true},{"year":2010,"month":7,"date":1,"utc":true},{"year":2011,"month":1,"date":1,"utc":true}],
            "labelExpr": "substring(utcFormat(datum.value, '%b'), 0, 1) + '-' + utcFormat(datum.value, '%y')"}},
        "y": {"field": "v", "type": "quantitative",
          "scale": {"domain": [0, 1000], "nice": false},
          "axis": {"values": [0,100,200,300,400,500,600,700,800,900,1000], "format": ",.0f", "ticks": false, "labelPadding": 34, "labelFontSize": 30, "grid": true, "domain": true,
            "title": "(bps)", "titleAngle": 0, "titleX": -68, "titleY": -29, "titleAlign": "center", "titleBaseline": "middle", "titleFontSize": 26}},
        "color": {"field": "c", "type": "nominal",
          "scale": {"domain": ["Greece", "Portugal", "Ireland", "Spain", "Italy"], "range": ["#000080", "#999999", "#800080", "#008000", "#000000"]},
          "legend": {"title": null, "orient": "none", "legendX": 74, "legendY": 5, "padding": 62, "fillColor": "white", "labelFont": "Liberation Serif", "labelFontSize": 33, "labelColor": "#000", "symbolSize": 400, "rowPadding": 17, "labelOffset": 31, "labelLimit": 300,
            "symbolType": {"expr": "datum.value === 'Greece' ? 'M-4,0H-0.6M0.6,0H4M0,-0.6L0.6,0L0,0.6L-0.6,0Z' : 'M-4,0H4'"}}},
        "strokeDash": {"field": "c", "type": "nominal",
          "scale": {"domain": ["Greece", "Portugal", "Ireland", "Spain", "Italy"], "range": [[1, 0], [9, 7], [1, 0], [1, 0], [1, 0]]},
          "legend": {"title": null, "orient": "none", "legendX": 74, "legendY": 5, "padding": 62, "fillColor": "white", "labelFont": "Liberation Serif", "labelFontSize": 33, "labelColor": "#000", "symbolSize": 400, "rowPadding": 17, "labelOffset": 31, "labelLimit": 300,
            "symbolType": {"expr": "datum.value === 'Greece' ? 'M-4,0H-0.6M0.6,0H4M0,-0.6L0.6,0L0,0.6L-0.6,0Z' : 'M-4,0H4'"}}},
        "strokeWidth": {"field": "c", "type": "nominal",
          "scale": {"type": "ordinal", "domain": ["Greece", "Portugal", "Ireland", "Spain", "Italy"], "range": [1.5, 4, 1.5, 3, 5]},
          "legend": {"title": null, "orient": "none", "legendX": 74, "legendY": 5, "padding": 62, "fillColor": "white", "labelFont": "Liberation Serif", "labelFontSize": 33, "labelColor": "#000", "symbolSize": 400, "rowPadding": 17, "labelOffset": 31, "labelLimit": 300,
            "symbolType": {"expr": "datum.value === 'Greece' ? 'M-4,0H-0.6M0.6,0H4M0,-0.6L0.6,0L0,0.6L-0.6,0Z' : 'M-4,0H4'"}}}
      }
    },
    {
      "transform": [{"filter": "datum.c === 'Greece'"}],
      "mark": {"type": "point", "shape": "diamond", "filled": true, "fill": "white", "stroke": "#000080", "strokeWidth": 1.5, "size": 150, "opacity": 1},
      "encoding": {"x": {"field": "d", "type": "temporal"}, "y": {"field": "v", "type": "quantitative"}}
    }
  ]
},
{
  "width": 522, "height": 880,
  "transform": [{"filter": "datum.d >= utc(2010, 3, 1)"}],
  "resolve": {"axis": {"x": "independent"}},
  "layer": [
    {
      "mark": {"type": "line", "strokeJoin": "round"},
      "encoding": {
        "x": {"field": "d", "type": "temporal",
          "scale": {"type": "utc", "domain": [{"year": 2010, "month": 4, "date": 1, "utc": true}, {"year": 2011, "month": 2, "date": 28, "utc": true}]},
          "axis": {"title": null, "grid": false, "labelFontSize": 28, "tickSize": -9, "labelPadding": 31, "labelOverlap": false, "labelFlush": false, "labelBaseline": "top",
            "values": [{"year":2010,"month":4,"date":1,"utc":true},{"year":2010,"month":5,"date":1,"utc":true},{"year":2010,"month":6,"date":1,"utc":true},{"year":2010,"month":7,"date":1,"utc":true},{"year":2010,"month":8,"date":1,"utc":true},{"year":2010,"month":9,"date":1,"utc":true},{"year":2010,"month":10,"date":1,"utc":true},{"year":2010,"month":11,"date":1,"utc":true},{"year":2010,"month":12,"date":1,"utc":true},{"year":2011,"month":1,"date":1,"utc":true},{"year":2011,"month":2,"date":1,"utc":true}],
            "labelExpr": "substring(utcFormat(datum.value, '%b'), 0, 1)"}},
        "y": {"field": "v", "type": "quantitative",
          "scale": {"domain": [0, 1000], "nice": false},
          "axis": {"orient": "right", "values": [0,100,200,300,400,500,600,700,800,900,1000], "format": ",.0f", "ticks": false, "labelPadding": 22, "labelFontSize": 27, "grid": true,
            "title": "(bps)", "titleAngle": 0, "titleX": -1, "titleY": -29, "titleAlign": "center", "titleBaseline": "middle", "titleFontSize": 26}},
        "color": {"field": "c", "type": "nominal", "legend": null,
          "scale": {"domain": ["Greece", "Portugal", "Ireland", "Spain", "Italy"], "range": ["#000080", "#999999", "#800080", "#008000", "#000000"]}},
        "strokeDash": {"field": "c", "type": "nominal", "legend": null,
          "scale": {"domain": ["Greece", "Portugal", "Ireland", "Spain", "Italy"], "range": [[1, 0], [9, 7], [1, 0], [1, 0], [1, 0]]}},
        "strokeWidth": {"field": "c", "type": "nominal", "legend": null,
          "scale": {"type": "ordinal", "domain": ["Greece", "Portugal", "Ireland", "Spain", "Italy"], "range": [1.5, 4, 1.5, 3, 5]}}
      }
    },
    {
      "transform": [{"filter": "datum.c === 'Greece'"}],
      "mark": {"type": "point", "shape": "diamond", "filled": true, "fill": "white", "stroke": "#000080", "strokeWidth": 1.5, "size": 150, "opacity": 1},
      "encoding": {
        "x": {"field": "d", "type": "temporal",
          "axis": {"orient": "bottom", "title": null, "grid": false, "domain": false, "ticks": false, "labelFontSize": 23, "labelPadding": 63, "labelOverlap": false, "labelFlush": false, "labelBaseline": "top",
            "values": [{"year":2010,"month":8,"date":1,"utc":true},{"year":2011,"month":1,"date":16,"utc":true}],
            "labelExpr": "utcyear(datum.value) == 2010 ? '10' : '11'"}},
        "y": {"field": "v", "type": "quantitative"}
      }
    }
  ]
}
]
}
